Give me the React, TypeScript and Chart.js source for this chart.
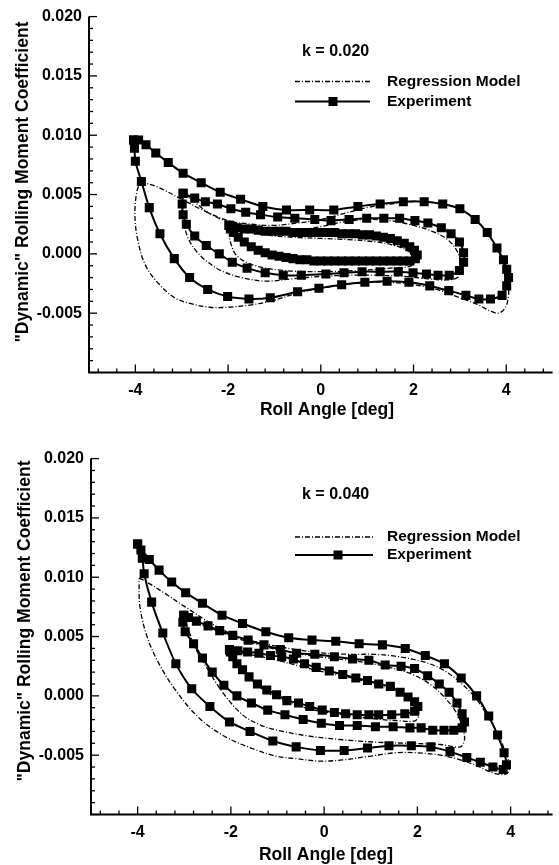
import React, { useEffect, useRef } from "react";
import { Chart, registerables } from "chart.js";

Chart.register(...registerables);

type Pt = [number, number];

const FONT = '"Liberation Sans", Arial, Helvetica, sans-serif';

// ---- axis / label text ----
const xTickValues = [-4, -2, 0, 2, 4];
const yTickValues = [-0.005, 0, 0.005, 0.01, 0.015, 0.02];
const xAxisTitle = "Roll Angle [deg]";
const yAxisTitle = '"Dynamic" Rolling Moment Coefficient';
const regressionLabel = "Regression Model";
const experimentLabel = "Experiment";
const kLabelTop = "k = 0.020";
const kLabelBottom = "k = 0.040";

// ---- k = 0.020 : experiment loops (amplitude 4, 3, 2 deg) ----
const exp4K020: Pt[] = [
  [-4.04, 0.0096], [-3.93, 0.0096], [-3.77, 0.0092], [-3.56, 0.0085], [-3.29, 0.0077], [-2.97, 0.0068],
  [-2.58, 0.006], [-2.17, 0.0052], [-1.73, 0.0046], [-1.25, 0.004], [-0.74, 0.0037], [-0.24, 0.0037],
  [0.28, 0.0037], [0.8, 0.004], [1.28, 0.0042], [1.78, 0.0044], [2.23, 0.0044], [2.63, 0.0042],
  [3.0, 0.0038], [3.33, 0.0029], [3.59, 0.0018], [3.8, 0.0005], [3.94, -0.0005], [4.01, -0.0013],
  [4.05, -0.002], [4.01, -0.0027], [3.91, -0.0035], [3.66, -0.0038], [3.41, -0.0038], [3.13, -0.0035],
  [2.76, -0.0031], [2.35, -0.0027], [1.9, -0.0024], [1.43, -0.0023], [0.95, -0.0024], [0.45, -0.0026],
  [-0.04, -0.0029], [-0.5, -0.0032], [-1.09, -0.0037], [-1.55, -0.0038], [-2.01, -0.0036], [-2.44, -0.003],
  [-2.83, -0.002], [-3.16, -0.0004], [-3.47, 0.0017], [-3.7, 0.0039], [-3.87, 0.0061], [-4.0, 0.0078],
  [-4.02, 0.0089], [-4.04, 0.0096],
];
const exp3K020: Pt[] = [
  [-2.97, 0.0051], [-2.72, 0.0047], [-2.49, 0.0044], [-2.23, 0.0042], [-1.94, 0.0038], [-1.62, 0.0035],
  [-1.3, 0.0033], [-0.93, 0.0031], [-0.56, 0.003], [-0.13, 0.0029], [0.22, 0.0028], [0.61, 0.0029],
  [0.99, 0.003], [1.36, 0.003], [1.7, 0.003], [2.03, 0.0028], [2.31, 0.0026], [2.6, 0.0022],
  [2.81, 0.0017], [2.99, 0.001], [3.08, 0.0001], [3.08, -0.0007], [2.99, -0.0014], [2.77, -0.0018],
  [2.53, -0.0018], [2.28, -0.0017], [1.99, -0.0016], [1.67, -0.0015], [1.28, -0.0015], [0.89, -0.0015],
  [0.5, -0.0016], [0.11, -0.0017], [-0.42, -0.0018], [-0.81, -0.0018], [-1.2, -0.0016], [-1.59, -0.0012],
  [-1.91, -0.0007], [-2.19, 0.0], [-2.47, 0.0007], [-2.72, 0.0015], [-2.9, 0.0025], [-2.97, 0.0033],
  [-2.99, 0.0042], [-2.97, 0.0051],
];
const exp2K020: Pt[] = [
  [-1.98, 0.0024], [-1.9, 0.0023], [-1.8, 0.0022], [-1.65, 0.0021], [-1.5, 0.0021], [-1.35, 0.002],
  [-1.2, 0.0019], [-1.05, 0.0019], [-0.9, 0.0019], [-0.75, 0.0019], [-0.6, 0.0018], [-0.45, 0.0018],
  [-0.3, 0.0018], [-0.15, 0.0018], [0.0, 0.0018], [0.15, 0.0018], [0.3, 0.0018], [0.45, 0.0017],
  [0.6, 0.0017], [0.75, 0.0017], [0.9, 0.0016], [1.05, 0.0016], [1.2, 0.0015], [1.35, 0.0014],
  [1.5, 0.0013], [1.65, 0.0011], [1.8, 0.0009], [1.92, 0.0006], [2.02, 0.0003], [2.08, -0.0001],
  [2.04, -0.0004], [1.92, -0.0006], [1.78, -0.0006], [1.64, -0.0006], [1.5, -0.0006], [1.35, -0.0006],
  [1.2, -0.0006], [1.05, -0.0006], [0.9, -0.0006], [0.75, -0.0006], [0.6, -0.0006], [0.45, -0.0006],
  [0.3, -0.0006], [0.15, -0.0006], [0.0, -0.0006], [-0.15, -0.0006], [-0.3, -0.0005], [-0.45, -0.0005],
  [-0.6, -0.0004], [-0.75, -0.0003], [-0.9, -0.0002], [-1.05, -0.0001], [-1.2, 0.0001], [-1.35, 0.0003],
  [-1.5, 0.0006], [-1.65, 0.001], [-1.78, 0.0014], [-1.88, 0.0018], [-1.95, 0.0021], [-1.98, 0.0024],
];

// ---- k = 0.020 : regression model loops ----
const reg4K020: Pt[] = [
  [-3.89, 0.0061], [-3.5, 0.0056], [-3.0, 0.0046], [-2.5, 0.0036], [-2.0, 0.0028], [-1.5, 0.0025],
  [-1.0, 0.0024], [-0.5, 0.0026], [0.0, 0.0029], [0.5, 0.0034], [1.0, 0.0039], [1.5, 0.0042],
  [2.0, 0.0044], [2.5, 0.0043], [3.0, 0.0038], [3.33, 0.0029], [3.6, 0.0017], [3.82, 0.0003],
  [3.97, -0.0012], [4.05, -0.0028], [4.03, -0.004], [3.95, -0.0047], [3.82, -0.005], [3.65, -0.0048],
  [3.4, -0.0043], [3.0, -0.0037], [2.5, -0.003], [2.0, -0.0026], [1.5, -0.0024], [1.0, -0.0024],
  [0.5, -0.0026], [0.0, -0.0029], [-0.5, -0.0033], [-1.0, -0.0039], [-1.5, -0.0043], [-2.0, -0.0045],
  [-2.4, -0.0045], [-2.8, -0.0042], [-3.15, -0.0037], [-3.5, -0.0025], [-3.79, -0.0009], [-3.96, 0.0014],
  [-4.01, 0.0034], [-3.97, 0.0052], [-3.89, 0.0061],
];
const reg3K020: Pt[] = [
  [-2.97, 0.0051], [-2.7, 0.0043], [-2.4, 0.0034], [-2.0, 0.0027], [-1.5, 0.0022], [-1.0, 0.002],
  [-0.5, 0.002], [0.0, 0.0023], [0.5, 0.0027], [1.0, 0.0029], [1.5, 0.0028], [2.0, 0.0024],
  [2.4, 0.0019], [2.7, 0.0013], [2.9, 0.0005], [3.0, -0.0004], [3.01, -0.0013], [2.95, -0.002],
  [2.7, -0.0022], [2.3, -0.0021], [1.8, -0.0019], [1.2, -0.0018], [0.6, -0.0018], [0.0, -0.0019],
  [-0.6, -0.0021], [-1.2, -0.0023], [-1.7, -0.002], [-2.16, -0.0014], [-2.5, -0.0005], [-2.7, 0.0003],
  [-2.86, 0.0013], [-2.95, 0.0025], [-2.98, 0.0038], [-2.97, 0.0051],
];
const reg2K020: Pt[] = [
  [-1.98, 0.0024], [-1.7, 0.002], [-1.2, 0.0016], [-0.6, 0.0014], [0.0, 0.0013], [0.6, 0.0012],
  [1.2, 0.001], [1.6, 0.0007], [1.9, 0.0002], [2.03, -0.0004], [1.96, -0.001], [1.5, -0.0012],
  [0.8, -0.0014], [0.0, -0.0015], [-0.8, -0.0014], [-1.41, -0.001], [-1.8, -0.0002], [-1.95, 0.001],
  [-1.98, 0.0024],
];

// ---- k = 0.040 : experiment loops ----
const exp4K040: Pt[] = [
  [-4.0, 0.0128], [-3.93, 0.0123], [-3.75, 0.0115], [-3.54, 0.0106], [-3.27, 0.0096], [-2.97, 0.0087],
  [-2.61, 0.0078], [-2.19, 0.0068], [-1.75, 0.0061], [-1.25, 0.0054], [-0.76, 0.0049], [-0.26, 0.0047],
  [0.25, 0.0046], [0.75, 0.0044], [1.25, 0.0043], [1.74, 0.004], [2.17, 0.0034], [2.58, 0.0027],
  [2.94, 0.0015], [3.27, 0.0], [3.53, -0.0017], [3.72, -0.0033], [3.86, -0.0048], [3.91, -0.0058],
  [3.84, -0.0062], [3.62, -0.006], [3.35, -0.0056], [3.06, -0.0052], [2.7, -0.0047], [2.29, -0.0043],
  [1.87, -0.0042], [1.39, -0.0042], [0.93, -0.0044], [0.43, -0.0046], [-0.08, -0.0046], [-0.6, -0.0043],
  [-1.1, -0.0038], [-1.59, -0.003], [-2.03, -0.0022], [-2.45, -0.0009], [-2.84, 0.0006], [-3.18, 0.0027],
  [-3.46, 0.0053], [-3.7, 0.0079], [-3.86, 0.0103], [-3.9, 0.0116], [-4.0, 0.0128],
];
const exp3K040: Pt[] = [
  [-3.01, 0.0068], [-2.91, 0.0066], [-2.74, 0.0063], [-2.49, 0.0059], [-2.24, 0.0055], [-1.96, 0.0051],
  [-1.63, 0.0047], [-1.29, 0.0043], [-0.94, 0.0039], [-0.59, 0.0036], [-0.2, 0.0035], [0.22, 0.0033],
  [0.61, 0.0031], [0.96, 0.003], [1.31, 0.0026], [1.65, 0.0025], [1.94, 0.0023], [2.22, 0.0017],
  [2.47, 0.001], [2.68, 0.0003], [2.85, -0.0006], [2.96, -0.0015], [3.01, -0.0022], [2.96, -0.0027],
  [2.78, -0.0029], [2.57, -0.0029], [2.33, -0.0029], [2.08, -0.0027], [1.84, -0.0027], [1.48, -0.0026],
  [1.1, -0.0026], [0.71, -0.0025], [0.33, -0.0025], [-0.06, -0.0023], [-0.45, -0.002], [-0.84, -0.0016],
  [-1.21, -0.0012], [-1.56, -0.0006], [-1.87, 0.0], [-2.15, 0.0009], [-2.4, 0.002], [-2.61, 0.0032],
  [-2.8, 0.0044], [-2.98, 0.0054], [-3.03, 0.0062], [-3.01, 0.0068],
];
const exp2K040: Pt[] = [
  [-2.03, 0.0039], [-1.85, 0.0038], [-1.64, 0.0037], [-1.4, 0.0036], [-1.15, 0.0034], [-0.91, 0.0033],
  [-0.66, 0.0031], [-0.42, 0.0027], [-0.17, 0.0024], [0.11, 0.0021], [0.4, 0.0018], [0.68, 0.0015],
  [0.93, 0.0013], [1.17, 0.001], [1.42, 0.0008], [1.63, 0.0003], [1.8, -0.0001], [1.94, -0.0005],
  [2.01, -0.0009], [1.94, -0.0013], [1.73, -0.0015], [1.45, -0.0016], [1.17, -0.0016], [0.96, -0.0016],
  [0.71, -0.0016], [0.46, -0.0015], [0.22, -0.0014], [-0.04, -0.0012], [-0.31, -0.0009], [-0.55, -0.0006],
  [-0.8, -0.0004], [-1.02, 0.0001], [-1.23, 0.0005], [-1.43, 0.001], [-1.61, 0.0016], [-1.75, 0.0022],
  [-1.87, 0.0027], [-1.96, 0.0033], [-2.01, 0.0037], [-2.03, 0.0039],
];

// ---- k = 0.040 : regression model loops ----
const reg4K040: Pt[] = [
  [-3.97, 0.0099], [-3.85, 0.0097], [-3.4, 0.0086], [-2.98, 0.0075], [-2.42, 0.0061], [-1.86, 0.005],
  [-1.29, 0.0044], [-0.6, 0.0039], [0.0, 0.0036], [0.6, 0.0035], [1.1, 0.0035], [1.6, 0.0033],
  [2.1, 0.0029], [2.5, 0.0023], [2.9, 0.0012], [3.25, -0.0002], [3.52, -0.0018], [3.75, -0.0034],
  [3.9, -0.0049], [3.98, -0.006], [3.9, -0.0066], [3.63, -0.0065], [3.28, -0.0059], [2.92, -0.0054],
  [2.5, -0.005], [2.0, -0.0048], [1.52, -0.0048], [0.96, -0.0051], [0.39, -0.0054], [-0.1, -0.0055],
  [-0.59, -0.0053], [-1.01, -0.0051], [-1.5, -0.0045], [-2.14, -0.0034], [-2.7, -0.0018], [-3.19, 0.0005],
  [-3.54, 0.0027], [-3.79, 0.0049], [-3.95, 0.0075], [-3.97, 0.0099],
];
const reg3K040: Pt[] = [
  [-3.0, 0.0066], [-2.7, 0.0061], [-2.3, 0.0055], [-1.9, 0.0049], [-1.4, 0.0043], [-0.9, 0.0038],
  [-0.3, 0.0034], [0.3, 0.0031], [0.9, 0.0028], [1.4, 0.0024], [1.9, 0.0018], [2.3, 0.0009],
  [2.6, -0.0002], [2.85, -0.0015], [2.98, -0.0028], [3.01, -0.0037], [2.92, -0.0043], [2.5, -0.0041],
  [1.8, -0.004], [1.1, -0.0039], [0.4, -0.0037], [-0.31, -0.0034], [-1.0, -0.0029], [-1.4, -0.0024],
  [-1.75, -0.0016], [-2.14, 0.0001], [-2.49, 0.0022], [-2.77, 0.0041], [-2.92, 0.0057], [-3.0, 0.0066],
];
const reg2K040: Pt[] = [
  [-2.0, 0.0038], [-1.6, 0.0035], [-1.0, 0.003], [-0.5, 0.0025], [0.0, 0.002], [0.5, 0.0016],
  [1.0, 0.0011], [1.4, 0.0006], [1.75, 0.0], [1.98, -0.0008], [2.03, -0.0016], [1.95, -0.0021],
  [1.6, -0.0021], [1.0, -0.0019], [0.4, -0.0016], [-0.2, -0.0012], [-0.8, -0.0005], [-1.3, 0.0005],
  [-1.65, 0.0017], [-1.9, 0.0029], [-2.0, 0.0038],
];

const REG_DASH = [5, 2, 1, 2];

const decorPlugin = {
  id: "decor",
  afterDraw(chart: any, _args: any, opts: any) {
    const { ctx, chartArea: a } = chart;
    const xs = chart.scales.x;
    const ys = chart.scales.y;
    ctx.save();
    ctx.strokeStyle = "#000";
    ctx.fillStyle = "#000";
    ctx.setLineDash([]);
    // axis lines
    ctx.lineWidth = 2;
    ctx.beginPath();
    ctx.moveTo(a.left, a.top);
    ctx.lineTo(a.left, a.bottom);
    ctx.lineTo(a.right, a.bottom);
    ctx.stroke();
    // inward tick marks (major + minor)
    ctx.lineWidth = 1.3;
    for (let i = -10; i <= 20; i++) {
      const py = ys.getPixelForValue(i * 0.001);
      const len = i % 5 === 0 ? 8 : 4;
      ctx.beginPath();
      ctx.moveTo(a.left, py);
      ctx.lineTo(a.left + len, py);
      ctx.stroke();
    }
    for (let i = -12; i <= 12; i++) {
      const v = i * 0.4;
      if (v < xs.min || v > xs.max) continue;
      const px = xs.getPixelForValue(v);
      const len = i % 5 === 0 ? 8 : 4;
      ctx.beginPath();
      ctx.moveTo(px, a.bottom);
      ctx.lineTo(px, a.bottom - len);
      ctx.stroke();
    }
    // axis titles
    ctx.font = `bold 17.5px ${FONT}`;
    ctx.textAlign = "center";
    ctx.textBaseline = "middle";
    ctx.fillText(xAxisTitle, opts.xTitleX, opts.xTitleY);
    ctx.save();
    ctx.translate(opts.yTitleX, opts.yTitleY);
    ctx.rotate(-Math.PI / 2);
    ctx.fillText(yAxisTitle, 0, 0);
    ctx.restore();
    // k label
    ctx.textAlign = "left";
    ctx.font = `bold 16px ${FONT}`;
    ctx.fillText(opts.kLabel, opts.kX, opts.kY);
    // legend
    ctx.lineWidth = 1.3;
    ctx.setLineDash(REG_DASH);
    ctx.beginPath();
    ctx.moveTo(opts.lx0, opts.ly1);
    ctx.lineTo(opts.lx1, opts.ly1);
    ctx.stroke();
    ctx.setLineDash([]);
    ctx.lineWidth = 2;
    ctx.beginPath();
    ctx.moveTo(opts.lx0, opts.ly2);
    ctx.lineTo(opts.lx1, opts.ly2);
    ctx.stroke();
    ctx.fillRect(opts.sqX - 4.5, opts.ly2 - 4.5, 9, 9);
    ctx.font = `bold 15.5px ${FONT}`;
    ctx.fillText(regressionLabel, opts.tx, opts.ly1);
    ctx.fillText(experimentLabel, opts.tx, opts.ly2);
    ctx.restore();
  },
};

function toXY(p: Pt[]) {
  return p.map(([x, y]) => ({ x, y }));
}

interface PanelProps {
  width: number;
  height: number;
  xMax: number;
  exp: Pt[][];
  reg: Pt[][];
  decor: any;
}

function Panel({ width, height, xMax, exp, reg, decor }: PanelProps) {
  const ref = useRef<HTMLCanvasElement>(null);
  useEffect(() => {
    const plotBottom = 372.5;
    const expSets = exp.map((d) => ({
      data: toXY(d),
      showLine: true,
      borderColor: "#000",
      borderWidth: 2,
      tension: 0.25,
      pointStyle: "rect",
      pointRadius: 6.4,
      pointBackgroundColor: "#000",
      pointBorderColor: "#000",
      pointBorderWidth: 0,
    }));
    const regSets = reg.map((d) => ({
      data: toXY(d),
      showLine: true,
      borderColor: "#000",
      borderWidth: 1.3,
      borderDash: REG_DASH,
      tension: 0.35,
      pointRadius: 0,
    }));
    const tickFont = { family: FONT, size: 16, weight: "bold" as const };
    const chart = new Chart(ref.current as HTMLCanvasElement, {
      type: "scatter",
      data: { datasets: [...expSets, ...regSets] as any },
      options: {
        animation: false,
        responsive: false,
        devicePixelRatio: 1,
        layout: { padding: { top: 15, right: 0, bottom: 0, left: 0 } },
        plugins: {
          legend: { display: false },
          tooltip: { enabled: false },
          decor,
        } as any,
        scales: {
          x: {
            type: "linear",
            min: -5,
            max: xMax,
            grid: { display: false, drawTicks: false },
            border: { display: false },
            afterBuildTicks: (s: any) => {
              s.ticks = xTickValues.map((value) => ({ value }));
            },
            afterFit: (s: any) => {
              s.height = height - plotBottom;
            },
            ticks: {
              font: tickFont,
              color: "#000",
              padding: 8,
              maxRotation: 0,
              autoSkip: false,
              callback: (v: any) => String(v),
            },
          },
          y: {
            type: "linear",
            min: -0.01,
            max: 0.02,
            grid: { display: false, drawTicks: false },
            border: { display: false },
            afterBuildTicks: (s: any) => {
              s.ticks = yTickValues.map((value) => ({ value }));
            },
            afterFit: (s: any) => {
              s.width = 89;
            },
            ticks: {
              font: tickFont,
              color: "#000",
              padding: 7,
              autoSkip: false,
              callback: (v: any) => Number(v).toFixed(3),
            },
          },
        },
      },
      plugins: [decorPlugin],
    });
    return () => chart.destroy();
  }, []);
  return <canvas ref={ref} width={width} height={height} style={{ display: "block", width, height }} />;
}

export default function App() {
  return (
    <div style={{ position: "absolute", left: 0, top: 0, width: 559, height: 865, background: "#fff", overflow: "hidden" }}>
      <div style={{ position: "absolute", left: 0, top: 0 }}>
        <Panel
          width={559}
          height={432}
          xMax={5}
          exp={[exp4K020, exp3K020, exp2K020]}
          reg={[reg4K020, reg3K020, reg2K020]}
          decor={{
            xTitleX: 327, xTitleY: 410, yTitleX: 23, yTitleY: 182,
            kLabel: kLabelTop, kX: 302, kY: 52,
            lx0: 295, lx1: 370, ly1: 81.5, ly2: 101.5, sqX: 333, tx: 387,
          }}
        />
      </div>
      <div style={{ position: "absolute", left: 2, top: 442 }}>
        <Panel
          width={557}
          height={423}
          xMax={4.9}
          exp={[exp4K040, exp3K040, exp2K040]}
          reg={[reg4K040, reg3K040, reg2K040]}
          decor={{
            xTitleX: 324, xTitleY: 413, yTitleX: 23, yTitleY: 179,
            kLabel: kLabelBottom, kX: 300, kY: 53,
            lx0: 293, lx1: 371, ly1: 95, ly2: 113, sqX: 336, tx: 385,
          }}
        />
      </div>
    </div>
  );
}
